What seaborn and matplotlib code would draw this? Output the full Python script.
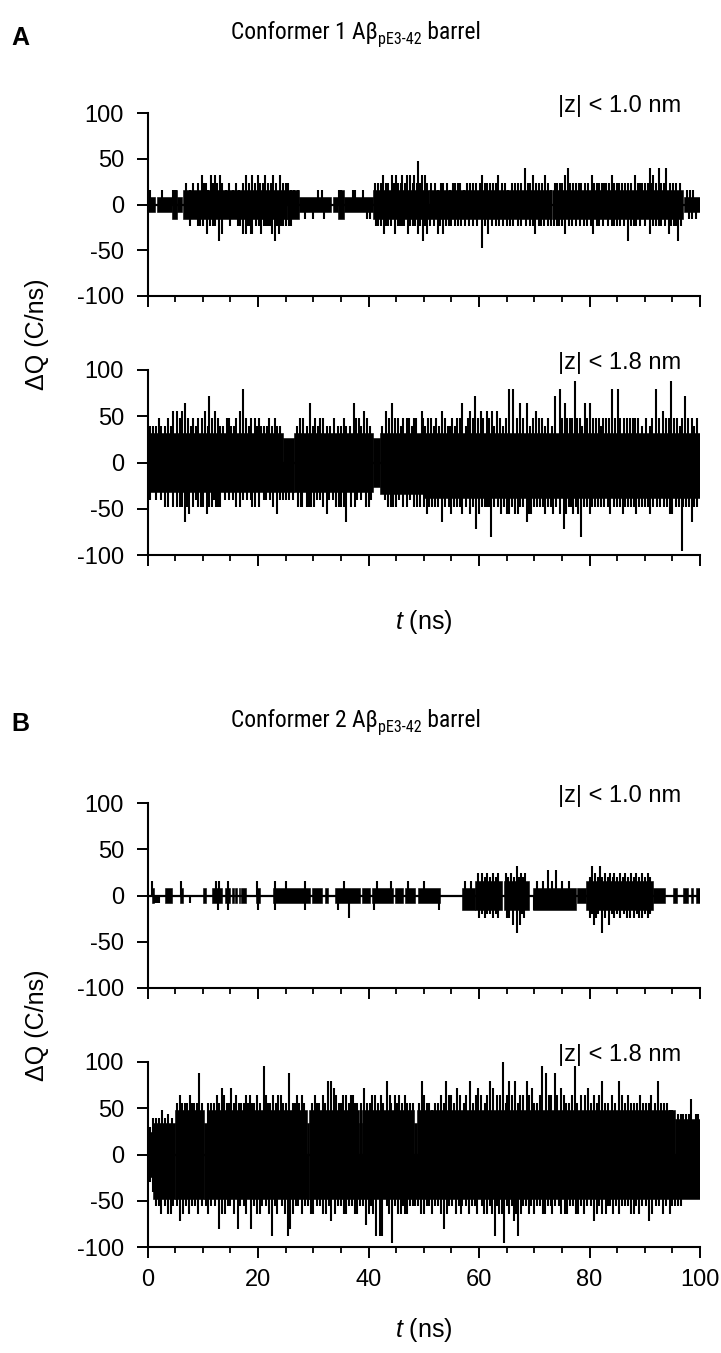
import matplotlib
matplotlib.use("Agg")
import matplotlib.pyplot as plt
import seaborn as sns
import pandas as pd
from matplotlib.ticker import MultipleLocator, FixedLocator
from matplotlib import font_manager as fm
from matplotlib.font_manager import FontProperties

# ---------------- data ----------------
# Dense-trace band segments per panel: start (ns), end (ns), upper level, lower level
A1_seg_t0 = [0.0, 1.7, 4.4, 5.3, 6.5, 25.2, 27.5, 33.6, 34.5, 35.5, 40.9, 51.0, 73.3, 97.1]
A1_seg_t1 = [1.4, 4.4, 5.3, 6.2, 25.2, 27.5, 33.3, 34.5, 35.5, 40.9, 51.0, 73.1, 96.9, 100.0]
A1_seg_hi = [8, 8, 16, 8, 16, 16, 8, 8, 16, 8, 16, 16, 16, 8]
A1_seg_lo = [-8, -8, -16, -8, -16, -16, -8, -8, -16, -8, -16, -16, -16, -8]

A2_seg_t0 = [0.0, 24.5, 26.5, 40.9, 42.0, 50.0]
A2_seg_t1 = [24.5, 26.5, 40.9, 42.0, 50.0, 100.0]
A2_seg_hi = [32, 26, 32, 26, 32, 32]
A2_seg_lo = [-32, -32, -32, -26, -34, -38]

B1_seg_t0 = [0.75, 3.2, 5.8, 10.1, 11.7, 14.0, 15.3, 15.9, 16.5, 17.0, 19.6, 22.8, 29.7, 32.1, 33.9, 38.8, 40.6, 44.8, 46.6,
             49.0, 56.9, 59.3, 64.5, 69.7, 77.8, 79.4, 91.5, 95.2, 97.0, 98.3, 99.3]
B1_seg_t1 = [1.2, 4.5, 6.4, 10.5, 13.5, 15.0, 15.6, 16.2, 16.8, 17.8, 20.4, 29.4, 31.5, 32.7, 38.5, 40.3, 44.5, 46.3, 48.5,
             53.0, 59.3, 64.1, 69.0, 77.6, 79.4, 91.5, 93.6, 95.8, 97.9, 98.8, 100.0]
B1_seg_hi = [8, 8, 8, 8, 8, 8, 8, 8, 8, 8, 8, 8, 8, 8, 8, 8, 8, 8, 8, 8, 8, 16, 16, 8, 8, 16, 8, 8, 8, 8, 8]
B1_seg_lo = [-8, -8, -8, -8, -8, -8, -8, -8, -8, -8, -8, -8, -8, -8, -8, -8, -8, -8, -8, -8, -16, -16, -16, -16, -8, -16, -8, -8, -8, -8, -8]

B2_seg_t0 = [0.0, 1.0, 5.0, 10.3, 10.9, 28.8, 29.3, 38.3, 38.8, 48.3, 48.8, 95.5]
B2_seg_t1 = [1.0, 5.0, 10.3, 10.9, 28.8, 29.3, 38.3, 38.8, 48.3, 48.8, 95.5, 100.0]
B2_seg_hi = [24, 34, 48, 34, 48, 34, 48, 34, 48, 34, 48, 38]
B2_seg_lo = [-24, -48, -48, -48, -48, -48, -48, -48, -48, -48, -48, -48]

# Individual spikes per panel: (time in ns, dQ value)
A1_up = [(0.4, 16), (2.6, 16), (4.6, 16), (4.9, 16), (5.2, 16), (7.0, 24), (7.7, 16), (8.3, 24),
         (9.2, 24), (9.8, 32), (10.2, 24), (10.6, 24), (11.0, 16), (11.5, 32), (11.9, 24), (12.2, 32), (12.6, 24),
         (13.1, 32), (13.5, 24), (14.2, 16), (14.8, 24), (15.4, 16), (16.0, 24), (16.5, 16), (17.3, 24), (17.9, 32),
         (18.4, 24), (19.0, 32), (19.5, 24), (20.0, 32), (20.4, 24), (20.9, 24), (21.3, 32), (21.8, 24), (22.3, 24),
         (22.8, 32), (23.3, 24), (24.0, 32), (24.5, 24), (25.0, 24), (25.5, 24), (26.0, 16), (26.6, 16), (27.2, 16),
         (30.9, 16), (31.5, 16), (34.6, 16), (35.0, 16), (37.2, 16), (37.6, 16), (39.0, 16),
         (41.2, 24), (41.7, 24), (42.2, 24), (42.6, 32), (43.1, 24), (43.5, 24), (44.2, 32), (44.6, 24), (45.0, 32),
         (45.4, 24), (45.8, 24), (46.1, 32), (46.6, 24), (47.0, 32), (47.6, 32), (48.0, 24), (48.3, 32), (48.7, 24),
         (49.0, 48), (49.4, 24), (49.6, 32), (50.2, 32), (50.6, 24), (51.3, 24), (52.0, 24), (52.6, 16), (53.1, 24),
         (53.5, 24), (54.2, 24), (54.8, 16), (55.3, 24), (55.7, 24), (56.2, 24), (56.6, 24), (57.2, 16), (57.8, 24),
         (58.4, 24), (59.0, 24), (59.5, 24), (60.1, 24), (60.5, 32), (61.0, 24), (61.4, 24), (62.0, 24), (62.5, 24),
         (63.0, 24), (63.5, 32), (64.1, 24), (64.7, 24), (65.3, 16), (65.9, 24), (66.5, 24), (67.0, 24), (67.6, 24),
         (68.3, 40), (68.8, 24), (69.3, 24), (69.8, 32), (70.3, 24), (70.8, 24), (71.4, 24), (71.9, 32), (72.5, 24),
         (73.0, 16), (73.8, 24), (74.2, 24), (74.6, 24), (75.0, 24), (75.5, 32), (76.1, 40), (76.5, 24), (77.0, 24),
         (77.6, 24), (78.1, 24), (78.5, 24), (79.2, 24), (79.8, 24), (80.4, 32), (80.9, 24), (81.3, 24), (81.8, 24),
         (82.2, 24), (82.6, 24), (83.0, 24), (83.5, 24), (84.0, 32), (84.5, 24), (85.0, 24), (85.4, 24), (85.8, 24),
         (86.5, 24), (87.0, 24), (87.5, 24), (88.2, 32), (88.7, 24), (89.1, 24), (89.5, 24), (90.0, 24), (90.5, 24),
         (90.9, 40), (91.2, 24), (91.5, 32), (92.0, 24), (92.5, 40), (93.0, 24), (93.5, 24), (93.9, 40), (94.5, 24),
         (95.2, 24), (95.7, 24), (96.3, 24), (97.6, 16), (98.2, 16), (98.8, 16)]
A1_dn = [(0.5, -8), (2.0, -8), (4.8, -16), (5.1, -16), (7.1, -16), (7.7, -24), (8.4, -16),
         (9.1, -24), (9.5, -24), (10.0, -24), (10.4, -16), (10.8, -32), (11.3, -24), (11.8, -24), (12.3, -24),
         (12.9, -40), (13.4, -32), (14.3, -16), (15.0, -24), (15.7, -16), (16.3, -24), (16.8, -24), (17.3, -32),
         (17.8, -32), (18.1, -24), (18.4, -24), (18.7, -32), (19.0, -32), (19.6, -24), (20.1, -24), (20.5, -32),
         (21.0, -24), (21.4, -24), (21.8, -24), (22.2, -24), (22.5, -32), (23.1, -40), (23.5, -24), (23.8, -32),
         (24.2, -24), (24.6, -24), (25.0, -24), (25.6, -24), (26.0, -24), (26.5, -16), (27.0, -16), (28.5, -16),
         (30.0, -16), (32.0, -16), (34.8, -16), (35.2, -16), (39.7, -16), (40.2, -16),
         (41.3, -24), (41.8, -24), (42.3, -24), (42.8, -32), (43.2, -24), (43.6, -24), (44.0, -24), (44.8, -32),
         (45.3, -24), (45.7, -24), (46.0, -24), (46.5, -24), (47.2, -32), (47.6, -24), (48.0, -24), (48.5, -24),
         (49.0, -32), (49.4, -24), (49.9, -40), (50.3, -24), (50.6, -32), (51.2, -24), (51.8, -24), (52.5, -32),
         (53.0, -24), (53.5, -32), (54.0, -24), (54.5, -24), (55.0, -24), (55.6, -24), (56.2, -24), (56.8, -24),
         (57.5, -24), (58.2, -24), (59.0, -24), (59.6, -24), (60.5, -48), (61.1, -24), (61.7, -32), (62.3, -24),
         (63.0, -24), (63.6, -24), (64.3, -24), (65.0, -24), (65.6, -24), (66.2, -24), (67.0, -24), (67.6, -24),
         (68.5, -24), (69.2, -24), (69.7, -24), (70.2, -32), (70.8, -24), (71.3, -24), (71.8, -24), (72.4, -24),
         (73.0, -24), (73.6, -24), (74.1, -24), (74.5, -24), (75.0, -24), (75.5, -32), (76.2, -24), (76.8, -24),
         (77.5, -24), (78.2, -24), (79.0, -24), (79.6, -24), (80.2, -24), (80.7, -32), (81.3, -24), (81.8, -24),
         (82.5, -24), (83.3, -24), (84.0, -24), (84.5, -24), (85.0, -24), (85.6, -24), (86.2, -24), (87.0, -40),
         (87.6, -24), (88.0, -24), (88.5, -24), (89.2, -24), (90.0, -24), (90.9, -32), (91.5, -24), (92.0, -24),
         (92.5, -24), (93.0, -24), (93.6, -24), (94.3, -32), (94.8, -24), (95.3, -24), (95.7, -24), (96.1, -40),
         (96.6, -24), (98.0, -16), (98.5, -16), (99.2, -16)]

A2_up = [(0.5, 40), (1.0, 40), (1.5, 40), (2.0, 48), (2.5, 40), (3.2, 40), (3.8, 48), (4.2, 40), (4.7, 56), (5.3, 56),
         (5.8, 48), (6.2, 56), (6.8, 64), (7.4, 48), (7.9, 40), (8.3, 48), (8.7, 40), (9.2, 48), (9.8, 48), (10.4, 56),
         (10.9, 40), (11.2, 72), (11.7, 48), (12.2, 56), (12.7, 48), (13.1, 40), (13.7, 40), (14.3, 48), (14.8, 48),
         (15.2, 40), (15.6, 40), (16.0, 48), (16.7, 56), (17.3, 80), (17.8, 48), (18.3, 40), (18.8, 48), (19.4, 48),
         (19.8, 40), (20.1, 48), (20.6, 40), (21.0, 40), (21.6, 40), (22.0, 48), (22.5, 40), (23.0, 48), (23.4, 40),
         (24.0, 40), (27.0, 40), (27.6, 48), (28.2, 48), (28.8, 40), (29.4, 64), (29.9, 40), (30.3, 48), (30.8, 40),
         (31.2, 48), (31.7, 48), (32.5, 40), (33.0, 40), (33.8, 48), (34.5, 40), (35.0, 40), (35.5, 48), (36.0, 40),
         (36.6, 40), (37.3, 64), (37.8, 48), (38.2, 48), (38.7, 40), (39.2, 56), (39.7, 48), (40.2, 40), (42.5, 40),
         (43.2, 56), (43.7, 48), (44.2, 64), (44.8, 48), (45.3, 48), (45.8, 40), (46.3, 48), (46.9, 48), (47.3, 48),
         (47.8, 40), (48.2, 48), (48.6, 48), (49.6, 56), (49.9, 48), (50.3, 40), (50.8, 48), (51.3, 48), (51.8, 40),
         (52.3, 48), (52.8, 40), (53.3, 56), (53.8, 48), (54.3, 40), (54.8, 40), (55.1, 48), (55.6, 40), (56.0, 48),
         (56.5, 48), (56.9, 64), (57.6, 40), (58.0, 48), (58.4, 56), (58.9, 48), (59.3, 72), (59.8, 48), (60.3, 56),
         (60.8, 48), (61.4, 56), (61.9, 48), (62.3, 56), (62.8, 40), (63.3, 56), (63.8, 48), (64.3, 40), (64.8, 48),
         (65.5, 80), (66.2, 80), (66.8, 48), (67.4, 64), (68.0, 48), (68.6, 64), (69.3, 40), (69.8, 48), (70.4, 56),
         (70.9, 48), (71.4, 48), (71.9, 40), (72.4, 48), (73.2, 40), (73.7, 72), (74.6, 80), (75.0, 48), (75.5, 64),
         (76.0, 48), (76.4, 48), (76.9, 48), (77.3, 88), (77.8, 48), (78.2, 48), (78.7, 40), (79.1, 64), (79.6, 48),
         (80.0, 64), (80.6, 48), (81.2, 48), (81.7, 48), (82.0, 40), (82.5, 48), (83.0, 48), (83.6, 48), (84.1, 80),
         (84.6, 48), (85.1, 80), (85.6, 48), (86.3, 48), (86.8, 48), (87.3, 48), (87.9, 48), (88.3, 48), (88.8, 48),
         (89.5, 40), (90.3, 48), (90.9, 40), (91.4, 48), (92.1, 80), (92.6, 48), (93.3, 56), (93.8, 48), (94.3, 48),
         (94.8, 88), (95.3, 48), (95.8, 48), (96.3, 40), (96.8, 48), (97.3, 72), (97.9, 48), (98.5, 48), (99.0, 40),
         (99.4, 48)]
A2_dn = [(0.5, -40), (1.5, -40), (2.4, -40), (3.2, -48), (3.8, -48), (4.7, -48), (5.3, -48), (5.9, -48), (6.3, -48),
         (6.8, -64), (7.2, -48), (7.6, -56), (8.3, -48), (8.8, -40), (9.2, -48), (9.7, -48), (10.0, -48), (10.8, -56),
         (11.2, -48), (11.6, -48), (12.0, -40), (12.4, -48), (12.8, -48), (13.1, -48), (14.0, -40), (14.7, -40),
         (15.4, -40), (16.0, -48), (16.7, -48), (17.3, -40), (18.0, -40), (18.7, -40), (19.0, -48), (19.5, -48),
         (20.2, -48), (21.0, -40), (21.5, -40), (22.2, -40), (22.7, -48), (23.4, -56), (24.0, -40), (24.5, -40),
         (25.0, -40), (25.6, -40), (26.3, -40), (27.3, -48), (27.7, -48), (28.0, -48), (28.8, -48), (29.2, -48),
         (29.6, -48), (30.1, -48), (30.6, -40), (31.3, -40), (31.8, -48), (32.4, -56), (32.9, -40), (33.5, -40),
         (34.1, -48), (34.6, -48), (35.0, -48), (35.5, -48), (36.0, -64), (36.9, -48), (37.5, -48), (38.0, -40),
         (38.6, -40), (39.5, -48), (40.0, -48), (40.5, -40), (43.0, -40), (43.6, -48), (44.1, -48), (44.5, -48),
         (45.0, -48), (45.5, -40), (46.3, -48), (46.9, -48), (47.5, -40), (48.2, -48), (48.8, -48), (49.4, -48),
         (50.0, -48), (50.5, -56), (51.0, -48), (51.5, -48), (52.0, -48), (52.6, -48), (53.3, -64), (53.8, -48),
         (54.5, -48), (55.0, -56), (55.5, -48), (56.0, -48), (56.5, -48), (57.0, -56), (57.6, -48), (58.4, -56),
         (59.0, -48), (59.5, -72), (60.0, -56), (60.5, -48), (61.0, -48), (61.4, -48), (61.8, -48), (62.2, -80),
         (62.8, -48), (63.5, -48), (64.0, -56), (64.5, -48), (65.0, -56), (65.5, -56), (66.0, -48), (66.5, -56),
         (67.0, -56), (67.5, -48), (68.0, -48), (68.6, -64), (69.1, -56), (69.5, -56), (70.0, -48), (70.5, -48),
         (71.0, -48), (71.5, -48), (72.0, -56), (72.5, -48), (73.0, -48), (73.4, -56), (74.0, -48), (74.7, -56),
         (75.3, -72), (75.8, -56), (76.2, -48), (76.7, -48), (77.0, -56), (77.6, -48), (78.0, -56), (78.5, -80),
         (79.0, -48), (79.5, -48), (80.0, -56), (80.5, -48), (81.0, -48), (81.5, -48), (82.0, -48), (82.6, -48),
         (83.3, -48), (83.8, -56), (84.5, -48), (85.0, -48), (85.5, -48), (86.0, -56), (86.5, -48), (87.0, -48),
         (87.5, -48), (88.0, -48), (88.5, -56), (89.0, -48), (89.5, -48), (90.0, -48), (90.5, -48), (91.0, -56),
         (91.5, -48), (92.2, -48), (92.8, -48), (93.4, -48), (94.0, -48), (94.5, -56), (95.0, -56), (95.6, -48),
         (96.2, -48), (96.7, -96), (97.0, -48), (97.5, -48), (98.0, -48), (98.6, -64), (99.0, -48), (99.5, -48)]

B1_up = [(0.8, 16), (6.0, 16), (12.4, 16), (13.0, 16), (14.6, 16), (19.9, 16), (23.1, 16), (25.0, 16), (28.5, 16),
         (35.5, 16), (41.5, 16), (44.0, 16), (47.2, 16), (50.0, 16), (57.5, 16), (58.5, 16), (59.8, 24), (60.5, 24),
         (61.0, 20), (61.5, 24), (62.0, 20), (62.5, 24), (63.0, 20), (63.5, 24), (64.8, 24), (65.3, 20), (65.8, 24),
         (66.3, 20), (66.8, 32), (67.2, 20), (67.6, 24), (68.0, 20), (68.4, 24), (70.5, 16), (71.5, 16), (72.5, 28),
         (73.2, 16), (74.0, 28), (75.0, 16), (76.2, 16), (80.0, 20), (80.4, 32), (81.0, 24), (81.5, 20), (81.9, 32),
         (82.3, 20), (82.8, 24), (83.3, 20), (83.8, 24), (84.2, 20), (84.5, 24), (85.0, 20), (85.5, 24), (86.0, 20),
         (86.5, 24), (87.0, 20), (87.5, 24), (88.0, 20), (88.5, 24), (89.0, 20), (89.5, 24), (90.0, 20), (90.5, 24),
         (91.0, 20)]
B1_dn = [(1.4, -8), (1.7, -8), (2.0, -8), (7.7, -8), (12.8, -16), (14.6, -16), (20.0, -16), (23.1, -16), (28.5, -16),
         (34.5, -16), (36.5, -24), (41.0, -16), (52.8, -16), (57.2, -16), (58.2, -16), (60.0, -24), (60.5, -20),
         (61.0, -24), (61.5, -20), (62.0, -20), (62.5, -24), (63.0, -20), (63.5, -24), (65.0, -24), (65.5, -24),
         (66.2, -32), (66.8, -40), (67.4, -32), (67.8, -20), (68.2, -24), (70.0, -16), (72.0, -16), (74.0, -16),
         (80.0, -24), (80.4, -20), (80.8, -32), (81.2, -24), (81.6, -20), (82.2, -40), (82.8, -24), (83.5, -32),
         (84.0, -20), (84.5, -24), (85.0, -20), (85.5, -24), (86.2, -20), (86.8, -24), (87.3, -24), (88.0, -24),
         (88.6, -20), (89.0, -24), (89.5, -24), (90.0, -20), (90.5, -24), (91.0, -20)]

B2_up = [(0.5, 30), (1.0, 40), (1.5, 40), (2.0, 40), (2.7, 48), (3.2, 40), (3.8, 44), (4.5, 40), (5.3, 56), (5.9, 64),
         (6.3, 56), (6.8, 56), (7.2, 56), (7.7, 64), (8.0, 56), (8.5, 56), (9.0, 56), (9.4, 88), (9.9, 56), (11.0, 56),
         (11.5, 56), (12.0, 56), (12.5, 64), (13.0, 56), (13.4, 72), (13.8, 64), (14.3, 56), (14.8, 56), (15.2, 72),
         (15.6, 56), (16.1, 64), (16.6, 56), (17.0, 56), (17.4, 56), (17.8, 64), (18.2, 56), (18.5, 64), (18.9, 56),
         (19.2, 56), (19.8, 64), (20.4, 56), (21.0, 96), (21.4, 64), (21.8, 56), (22.2, 56), (22.7, 64), (23.2, 56),
         (23.7, 64), (24.2, 64), (24.6, 56), (25.1, 56), (25.6, 88), (26.3, 56), (26.7, 56), (27.0, 64), (27.5, 56),
         (27.9, 64), (28.4, 56), (29.8, 56), (30.3, 64), (30.7, 56), (31.0, 56), (31.7, 64), (32.2, 56), (32.7, 80),
         (33.2, 80), (33.7, 72), (34.2, 64), (34.6, 56), (35.0, 56), (35.4, 64), (35.9, 64), (36.4, 56), (36.9, 64),
         (37.2, 64), (37.6, 56), (38.0, 56), (38.7, 56), (39.2, 72), (39.7, 56), (40.2, 56), (40.7, 64), (41.2, 64),
         (41.7, 56), (42.2, 64), (42.7, 56), (43.4, 80), (43.9, 64), (44.0, 56), (44.8, 64), (45.1, 56), (45.5, 64),
         (46.0, 56), (46.6, 64), (47.0, 56), (47.5, 56), (48.0, 56), (49.2, 56), (49.6, 80), (50.0, 64), (50.5, 56),
         (51.0, 56), (51.5, 48), (52.0, 56), (52.6, 56), (53.2, 64), (53.7, 56), (54.1, 80), (54.5, 64), (55.0, 64),
         (55.5, 56), (56.1, 72), (56.6, 64), (57.2, 56), (57.7, 64), (58.4, 80), (58.9, 56), (59.4, 64), (59.9, 72),
         (60.4, 64), (61.0, 56), (61.5, 64), (62.0, 80), (62.6, 72), (63.3, 64), (63.8, 64), (64.4, 100), (64.8, 56),
         (65.0, 64), (65.5, 80), (66.0, 64), (66.5, 80), (67.0, 56), (67.5, 64), (68.0, 64), (68.6, 80), (69.1, 64),
         (69.6, 72), (70.0, 56), (70.5, 56), (71.0, 64), (71.4, 96), (72.1, 88), (72.6, 64), (73.0, 64), (73.7, 88),
         (74.2, 64), (74.9, 72), (75.3, 64), (75.8, 56), (76.3, 56), (76.8, 64), (77.3, 96), (77.8, 56), (78.5, 64),
         (79.2, 64), (79.8, 72), (80.3, 56), (80.8, 64), (81.3, 56), (81.7, 64), (82.2, 80), (82.8, 56), (83.3, 56),
         (84.0, 64), (84.6, 56), (85.3, 80), (85.9, 64), (86.5, 56), (87.0, 64), (87.5, 56), (88.0, 56), (88.6, 56),
         (89.1, 64), (89.6, 56), (90.2, 56), (90.7, 56), (91.2, 64), (91.8, 56), (92.4, 80), (92.9, 56), (93.5, 56),
         (94.0, 56), (94.5, 48), (95.0, 48), (96.0, 44), (96.5, 44), (97.0, 44), (97.5, 44), (98.0, 44), (98.4, 60),
         (99.2, 44), (99.6, 44)]
B2_dn = [(0.5, -30), (1.0, -40), (1.5, -56), (2.0, -56), (2.5, -64), (3.2, -56), (3.75, -64), (4.2, -64), (4.6, -56),
         (5.3, -56), (5.8, -72), (6.4, -64), (7.0, -56), (7.5, -64), (8.0, -56), (8.6, -56), (9.2, -64), (9.8, -56),
         (10.5, -56), (11.0, -64), (11.5, -56), (12.2, -56), (12.9, -80), (13.5, -64), (14.0, -64), (14.5, -56),
         (15.0, -56), (15.6, -64), (16.3, -80), (16.8, -56), (17.5, -56), (17.9, -64), (18.75, -80), (19.3, -56),
         (19.8, -64), (20.3, -64), (20.8, -56), (21.4, -56), (22.0, -64), (22.5, -88), (23.0, -56), (23.5, -64),
         (24.3, -56), (24.8, -64), (25.4, -88), (25.8, -80), (26.3, -64), (26.8, -56), (27.3, -56), (28.0, -64),
         (28.5, -56), (29.0, -56), (29.6, -64), (30.0, -64), (30.6, -56), (31.2, -56), (31.7, -64), (32.3, -64),
         (32.8, -56), (33.3, -72), (34.0, -64), (34.5, -56), (35.0, -56), (35.5, -64), (36.0, -64), (36.5, -56),
         (37.0, -56), (37.5, -64), (38.0, -64), (38.5, -56), (39.0, -56), (39.6, -76), (40.0, -64), (40.5, -56),
         (40.9, -64), (41.3, -88), (42.0, -88), (42.5, -88), (43.3, -56), (43.8, -64), (44.2, -96), (44.8, -56),
         (45.3, -64), (45.8, -64), (46.2, -56), (46.6, -64), (47.0, -64), (47.5, -56), (48.0, -56), (48.5, -56),
         (49.0, -56), (49.5, -64), (50.0, -64), (50.5, -56), (51.0, -56), (51.5, -64), (52.0, -56), (52.6, -56),
         (53.2, -64), (53.75, -80), (54.2, -64), (54.6, -56), (55.2, -56), (55.8, -64), (56.3, -56), (56.8, -64),
         (57.0, -56), (57.6, -56), (58.2, -64), (58.7, -56), (59.2, -56), (59.7, -64), (60.5, -56), (60.9, -64),
         (61.5, -64), (62.0, -56), (62.4, -64), (62.9, -88), (63.3, -56), (63.7, -64), (64.2, -64), (64.6, -96),
         (65.1, -56), (65.5, -64), (65.9, -56), (66.3, -72), (66.7, -64), (67.1, -88), (67.6, -64), (68.0, -56),
         (68.5, -56), (69.0, -64), (69.5, -56), (70.0, -64), (70.5, -56), (71.0, -56), (71.5, -64), (72.0, -64),
         (72.5, -56), (73.0, -56), (73.3, -64), (73.8, -56), (74.5, -56), (74.9, -64), (75.5, -64), (76.0, -64),
         (76.5, -56), (77.0, -56), (77.5, -64), (78.0, -64), (78.5, -56), (79.0, -64), (79.5, -56), (80.2, -56),
         (80.8, -72), (81.3, -64), (81.8, -56), (82.3, -64), (82.9, -64), (83.3, -56), (83.8, -56), (84.3, -64),
         (84.8, -56), (85.3, -64), (85.8, -56), (86.5, -56), (86.9, -56), (87.5, -64), (88.0, -64), (88.5, -56),
         (89.0, -64), (89.5, -56), (90.3, -56), (90.8, -72), (91.3, -64), (92.0, -56), (92.5, -56), (93.3, -64),
         (93.8, -56), (94.5, -64), (94.9, -56), (95.5, -56), (96.0, -56), (96.5, -56)]

x_major = [0, 20, 40, 60, 80, 100]
y_ticks = [-100, -50, 0, 50, 100]
panel_notes = ["|z| < 1.0 nm", "|z| < 1.8 nm", "|z| < 1.0 nm", "|z| < 1.8 nm"]
title_main = ["Conformer 1 Aβ", "Conformer 2 Aβ"]
title_sub = "pE3-42"
title_tail = " barrel"
panel_letters = ["A", "B"]

# ---------------- style ----------------
sns.set_theme(style="ticks")
plt.rcParams["font.family"] = ["Liberation Sans", "DejaVu Sans"]
plt.rcParams["text.color"] = "black"
plt.rcParams["axes.labelcolor"] = "black"
plt.rcParams["axes.unicode_minus"] = False
plt.rcParams["mathtext.fontset"] = "custom"
plt.rcParams["mathtext.rm"] = "Liberation Sans"
plt.rcParams["mathtext.it"] = "Liberation Sans:italic"
plt.rcParams["mathtext.bf"] = "Liberation Sans:bold"


def find_condensed(bold=False):
    prefs = ["Liberation Sans Narrow", "Arimo", "Noto Sans", "Open Sans", "Roboto", "DejaVu Sans", "Lato", "Inter"]
    best = None
    for f in fm.fontManager.ttflist:
        nm = f.name.lower()
        fn = f.fname.lower()
        st = str(f.stretch).lower()
        cond = ("narrow" in nm or "condensed" in nm or "condensed" in st or "condensed" in fn or "narrow" in fn)
        if not cond or "extra" in st or "ultra" in st or "extra" in fn or "ultra" in fn or "[" in fn:
            continue
        if f.style != "normal":
            continue
        w = f.weight if isinstance(f.weight, int) else fm.weight_dict.get(f.weight, 400)
        if abs(w - (700 if bold else 400)) > 50:
            continue
        rank = next((i for i, p in enumerate(prefs) if f.name.startswith(p)), len(prefs))
        semi = 1 if ("semi" in st or "semi" in fn) else 0
        key = (rank, semi)
        if best is None or key < best[0]:
            best = (key, f.fname)
    return best[1] if best else None


COND = find_condensed(False)


def fp(size):
    if COND:
        return FontProperties(fname=COND, size=size)
    return FontProperties(family=["Liberation Sans", "DejaVu Sans"], size=size)


W, H = 721, 1353
fig = plt.figure(figsize=(W / 100, H / 100), dpi=100)


def axes_px(left, top, right, bottom):
    return fig.add_axes([left / W, 1 - bottom / H, (right - left) / W, (bottom - top) / H])


FS = 17
panels = [
    (axes_px(147.5, 113, 700, 296), A1_seg_t0, A1_seg_t1, A1_seg_hi, A1_seg_lo, A1_up + A1_dn, False),
    (axes_px(147.5, 370, 700, 555), A2_seg_t0, A2_seg_t1, A2_seg_hi, A2_seg_lo, A2_up + A2_dn, False),
    (axes_px(147.5, 803, 700, 988), B1_seg_t0, B1_seg_t1, B1_seg_hi, B1_seg_lo, B1_up + B1_dn, False),
    (axes_px(147.5, 1062, 700, 1247), B2_seg_t0, B2_seg_t1, B2_seg_hi, B2_seg_lo, B2_up + B2_dn, True),
]

for i, (ax, t0, t1, hi, lo, spikes, xlab) in enumerate(panels):
    seg = pd.DataFrame({"t0": t0, "t1": t1, "hi": hi, "lo": lo})
    spk = pd.DataFrame(spikes, columns=["t", "v"])
    base = pd.DataFrame({"t": [0, 100], "v": [0, 0]})
    sns.lineplot(data=base, x="t", y="v", ax=ax, color="black", lw=1.6)
    ax.bar(seg["t0"], seg["hi"] - seg["lo"], bottom=seg["lo"], width=seg["t1"] - seg["t0"],
           align="edge", color="black", edgecolor="black", linewidth=0.4)
    ax.vlines(spk["t"], 0, spk["v"], color="black", lw=1.5)
    ax.set_xlim(0, 100)
    ax.set_ylim(-100, 100)
    ax.set_xlabel("")
    ax.set_ylabel("")
    sns.despine(ax=ax)
    for s in ["left", "bottom"]:
        ax.spines[s].set_linewidth(1.5)
        ax.spines[s].set_color("black")
    ax.xaxis.set_major_locator(FixedLocator(x_major))
    ax.xaxis.set_minor_locator(MultipleLocator(5))
    ax.set_yticks(y_ticks)
    ax.tick_params(axis="both", which="major", direction="out", length=8, width=1.4, color="black",
                   labelsize=FS, labelcolor="black")
    ax.tick_params(axis="x", which="minor", direction="out", length=4, width=1.3, color="black")
    ax.tick_params(axis="y", pad=9)
    ax.tick_params(axis="x", pad=8)
    if not xlab:
        ax.set_xticklabels([])
    ax.text(96.5, 101, panel_notes[i], ha="right", va="baseline", fontsize=FS, color="black")
    ax.set_facecolor("white")

# ---- titles: main text + subscript + tail, chained to each other ----
host = panels[0][0]
title_sets = []
for k, ybase in enumerate([39, 727]):
    size = 18
    main = fig.text(0.3, 1 - ybase / H, title_main[k], fontproperties=fp(size), ha="left", va="baseline")
    sub = host.annotate(title_sub, xy=(1, 0), xycoords=main, xytext=(0.5, 0), textcoords="offset points",
                        ha="left", va="baseline", fontproperties=fp(size * 0.68), annotation_clip=False)
    tail = host.annotate(title_tail, xy=(1, 0), xycoords=(sub, main), ha="left", va="bottom",
                         fontproperties=fp(size), annotation_clip=False)
    title_sets.append((main, sub, tail))

TARGET_W, CENTER_X, MAX_SIZE = 250.0, 356.0, 18.0
for _ in range(2):
    fig.canvas.draw()
    r = fig.canvas.get_renderer()
    for main, sub, tail in title_sets:
        x0 = main.get_window_extent(r).x0
        x1 = tail.get_window_extent(r).x1
        s = main.get_fontsize() * TARGET_W / max(x1 - x0, 1.0)
        s = min(s, MAX_SIZE)
        main.set_fontsize(s)
        sub.set_fontsize(s * 0.68)
        tail.set_fontsize(s)
fig.canvas.draw()
r = fig.canvas.get_renderer()
for main, sub, tail in title_sets:
    x0 = main.get_window_extent(r).x0
    x1 = tail.get_window_extent(r).x1
    main.set_x((CENTER_X - (x1 - x0) / 2) / W)

# other labels
fig.text(20 / W, 1 - 38 / H, panel_letters[0], fontsize=18, fontweight="bold", ha="center", va="center")
fig.text(20 / W, 1 - 724 / H, panel_letters[1], fontsize=18, fontweight="bold", ha="center", va="center")
fig.text(37 / W, 1 - 334 / H, "ΔQ (C/ns)", fontsize=18, rotation=90, ha="center", va="center")
fig.text(37 / W, 1 - 1025 / H, "ΔQ (C/ns)", fontsize=18, rotation=90, ha="center", va="center")
fig.text(424 / W, 1 - 622 / H, r"$\mathit{t}$ (ns)", fontsize=18, ha="center", va="center")
fig.text(424 / W, 1 - 1330 / H, r"$\mathit{t}$ (ns)", fontsize=18, ha="center", va="center")

fig.savefig("out.png", dpi=100, facecolor="white")
